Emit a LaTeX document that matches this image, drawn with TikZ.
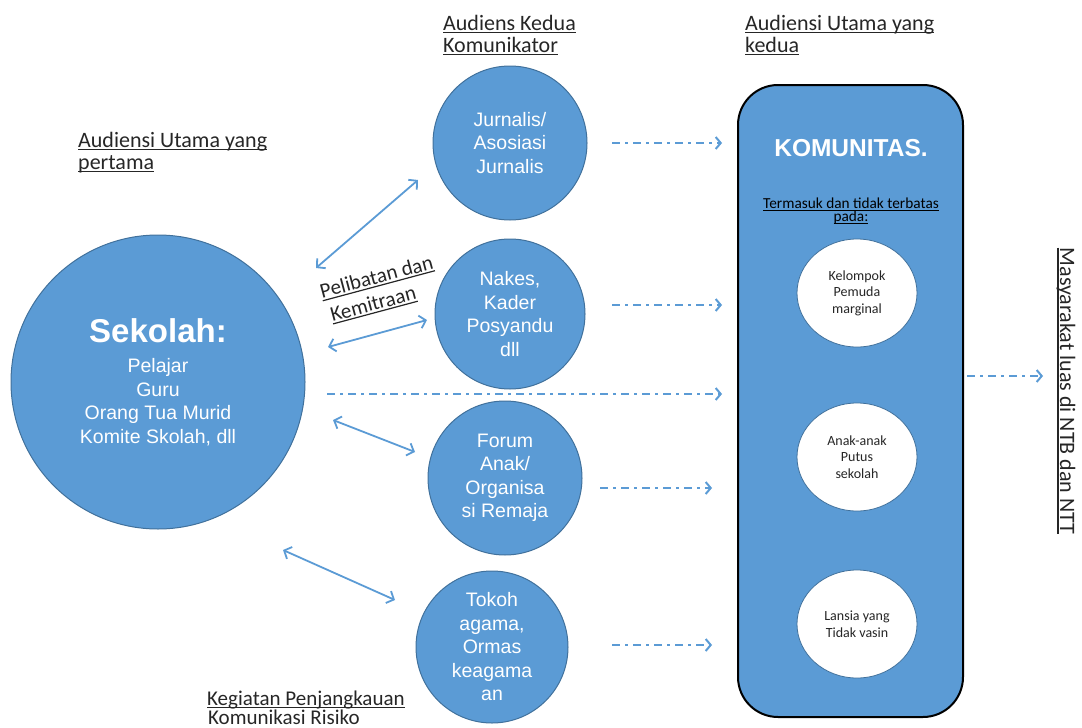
\documentclass[tikz,border=0pt]{standalone}
\usepackage{fontspec}
\setmainfont{Carlito}
\newfontfamily\arialf{Liberation Sans}
\usetikzlibrary{arrows.meta,shapes.geometric}
\definecolor{blueF}{RGB}{91,155,213}
\definecolor{blueD}{RGB}{65,113,156}
\definecolor{arrowC}{RGB}{91,155,213}
\definecolor{txt}{RGB}{38,38,38}
\newsavebox\ulbox
\newcommand\myul[1]{\sbox\ulbox{#1}\leavevmode\rlap{\rule[-2.8pt]{\wd\ulbox}{1.2pt}}\usebox\ulbox}
\begin{document}
\begin{tikzpicture}[x=1pt,y=-1pt,
  bigc/.style={circle, fill=blueF, draw=blueD, line width=1pt, text=white, align=center, inner sep=0pt, font=\arialf\fontsize{19.5}{23.5}\selectfont},
  wc/.style={ellipse, fill=white, draw=blueD, line width=0.8pt, minimum width=120pt, minimum height=108pt, inner sep=0pt, align=center, text=txt, font=\fontsize{14}{16.5}\selectfont},
  lbl/.style={anchor=base west, inner sep=0pt, text=txt, font=\fontsize{22}{22}\selectfont},
  dd/.style={draw=arrowC, line width=2.2pt, dash pattern=on 8pt off 5pt on 3pt off 5pt, -{Straight Barb[length=5pt,width=12pt,line width=2pt]}},
  dbl/.style={draw=arrowC, line width=1.8pt, {Straight Barb[length=6pt,width=13pt]}-{Straight Barb[length=6pt,width=13pt]}}
]
\useasboundingbox (0,0) rectangle (1082,728);

% main circles
\node[bigc, minimum size=294pt] (sek) at (158,382) {{\fontsize{33}{33}\selectfont\bfseries Sekolah:}\\[7pt]Pelajar\\Guru\\Orang Tua Murid\\Komite Skolah, dll};
\node[bigc, minimum size=154pt] (jur) at (510,143) {Jurnalis/\\Asosiasi\\Jurnalis};
\node[bigc, minimum size=150pt] (nak) at (510,314) {Nakes,\\Kader\\Posyandu\\dll};
\node[bigc, minimum size=154pt] (frm) at (505,478) {Forum\\Anak/\\Organisa\\si Remaja};
\node[bigc, minimum size=152pt] (tok) at (492,647) {Tokoh\\agama,\\Ormas\\keagama\\an};

% community box
\node[draw=black, line width=2pt, fill=blueF, rounded corners=40pt, minimum width=225pt, minimum height=632pt, inner sep=0pt] (kom) at (850.5,401) {};
\node[text=white, inner sep=0pt, font=\arialf\bfseries\fontsize{24.5}{28}\selectfont] (komt) at (851,148) {KOMUNITAS.};
\node[inner sep=0pt, align=center, text=black, font=\fontsize{15.3}{13.5}\selectfont] (term) at (851,211) {\myul{Termasuk dan tidak terbatas}\\\myul{pada:}};
\node[wc] (w1) at (857,293) {Kelompok\\Pemuda\\marginal};
\node[wc] (w2) at (857,457) {Anak-anak\\Putus\\sekolah};
\node[wc] (w3) at (857,624) {Lansia yang\\Tidak vasin};

% labels
\node[lbl] (ak1) at (443,30) {\myul{Audiens Kedua}};
\node[lbl] (ak2) at (443,52) {\myul{Komunikator}};
\node[lbl] (ud1) at (745,30) {\myul{Audiensi Utama yang}};
\node[lbl] (ud2) at (745,52) {\myul{kedua}};
\node[lbl] (up1) at (78,147) {\myul{Audiensi Utama yang}};
\node[lbl] (up2) at (78,169) {\myul{pertama}};
\node[lbl, font=\fontsize{21}{21}\selectfont] (kg1) at (207,705) {\myul{Kegiatan Penjangkauan}};
\node[lbl, font=\fontsize{21}{21}\selectfont] (kg2) at (208,724) {Komunikasi Risiko};
\node[rotate=15, align=left, inner sep=0pt, text=txt, font=\fontsize{21}{25}\selectfont] (pk) at (380,290) {\myul{Pelibatan dan}\\\hspace*{4pt}\myul{Kemitraan}};
\node[rotate=-90, inner sep=0pt, text=txt, font=\fontsize{22}{24}\selectfont] (mas) at (1066,391) {\myul{Masyarakat luas di NTB dan NTT}};

% coordinates for connectors
\coordinate (a1s) at (316,268); \coordinate (a1e) at (418,180);
\coordinate (a2s) at (328,347); \coordinate (a2e) at (427,320);
\coordinate (a3s) at (333,420); \coordinate (a3e) at (415,452);
\coordinate (a4s) at (283,550); \coordinate (a4e) at (395,600);
\coordinate (d1s) at (612,143); \coordinate (d1e) at (722,143);
\coordinate (d2s) at (612,305); \coordinate (d2e) at (722,305);
\coordinate (d3s) at (327,394); \coordinate (d3e) at (722,394);
\coordinate (d4s) at (600,488); \coordinate (d4e) at (712,488);
\coordinate (d5s) at (612,645); \coordinate (d5e) at (712,645);
\coordinate (d6s) at (967,376); \coordinate (d6e) at (1043,376);

\draw[dbl] (a1s) -- (a1e);
\draw[dbl] (a2s) -- (a2e);
\draw[dbl] (a3s) -- (a3e);
\draw[dbl] (a4s) -- (a4e);
\draw[dd] (d1s) -- (d1e);
\draw[dd] (d2s) -- (d2e);
\draw[dd] (d3s) -- (d3e);
\draw[dd] (d4s) -- (d4e);
\draw[dd] (d5s) -- (d5e);
\draw[dd] (d6s) -- (d6e);
\end{tikzpicture}
\end{document}
